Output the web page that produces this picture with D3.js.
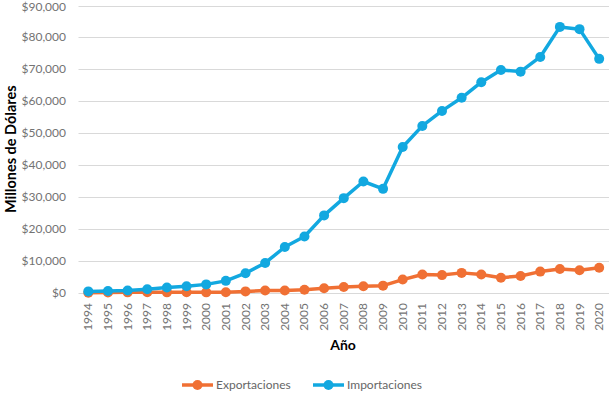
<!DOCTYPE html>
<html>
<head>
<meta charset="utf-8">
<script src="https://cdn.jsdelivr.net/npm/d3@7"></script>
<style>
body { margin: 0; background: #fff; }
text { font-family: Lato, "Open Sans", sans-serif; }
</style>
</head>
<body>
<div id="chart"></div>
<script>
var years = [1994, 1995, 1996, 1997, 1998, 1999, 2000, 2001, 2002, 2003, 2004, 2005, 2006,
    2007, 2008, 2009, 2010, 2011, 2012, 2013, 2014, 2015, 2016, 2017, 2018, 2019, 2020];

var exportaciones = [100, 150, 200, 250, 200, 250, 200, 250, 500, 800, 800, 1000, 1500,
    1900, 2100, 2300, 4200, 5800, 5600, 6300, 5800, 4800, 5300, 6700, 7500, 7100, 7900];

var importaciones = [500, 600, 800, 1200, 1700, 2100, 2700, 3800, 6200, 9400, 14400, 17700, 24300,
    29700, 34900, 32600, 45700, 52300, 57000, 61100, 66000, 69800, 69300, 73900, 83300, 82600, 73300];

var yTicks = [0, 10000, 20000, 30000, 40000, 50000, 60000, 70000, 80000, 90000];

var seriesNames = ["Exportaciones", "Importaciones"];
var colors = ["#f07034", "#12a8e0"];

var width = 609;
var height = 393;
var margin = { top: 5.5, right: 0, bottom: 100, left: 78.5 };

var svg = d3.select("#chart").append("svg")
    .attr("width", width)
    .attr("height", height);

var x = d3.scaleBand()
    .domain(years)
    .range([margin.left, width - margin.right]);

var y = d3.scaleLinear()
    .domain([0, 90000])
    .range([height - margin.bottom, margin.top]);

// grid lines
svg.append("g")
    .selectAll("line")
    .data(yTicks)
    .enter().append("line")
    .attr("x1", margin.left)
    .attr("x2", width - margin.right)
    .attr("y1", d => Math.round(y(d)) + 0.5)
    .attr("y2", d => Math.round(y(d)) + 0.5)
    .attr("stroke", "#d9d9d9")
    .attr("stroke-width", 1.2);

// y labels (top one kept inside the window)
var fmt = d3.format(",");
svg.append("g")
    .selectAll("text")
    .data(yTicks)
    .enter().append("text")
    .attr("x", 66)
    .attr("y", d => Math.max(y(d) + 4, 11))
    .attr("text-anchor", "end")
    .attr("font-size", 12)
    .attr("fill", "#737373")
    .text(d => "$" + fmt(d));

// x labels
svg.append("g")
    .selectAll("text")
    .data(years)
    .enter().append("text")
    .attr("transform", d => `translate(${x(d) + x.bandwidth() / 2 + 4},${y(0) + 10}) rotate(-90)`)
    .attr("text-anchor", "end")
    .attr("font-size", 12)
    .attr("fill", "#737373")
    .text(d => d);

// axis titles
svg.append("text")
    .attr("x", 343)
    .attr("y", 350)
    .attr("text-anchor", "middle")
    .attr("font-size", 14)
    .attr("font-weight", "bold")
    .attr("fill", "#000")
    .text("Año");

svg.append("text")
    .attr("transform", `translate(16,${(y(0) + y(90000)) / 2}) rotate(-90)`)
    .attr("text-anchor", "middle")
    .attr("font-size", 14.5)
    .attr("font-weight", "bold")
    .attr("fill", "#000")
    .text("Millones de Dólares");

var line = d3.line()
    .x(function (d, i) { return x(years[i]) + x.bandwidth() / 2 })
    .y(function (d) { return y(d) });

var allSeries = [exportaciones, importaciones];
allSeries.forEach(function (s, k) {
    svg.append("path")
        .datum(s)
        .attr("fill", "none")
        .attr("stroke", colors[k])
        .attr("stroke-width", 3.5)
        .attr("stroke-linejoin", "round")
        .attr("d", line);
    svg.append("g")
        .selectAll("circle")
        .data(s)
        .enter().append("circle")
        .attr("cx", (d, i) => x(years[i]) + x.bandwidth() / 2)
        .attr("cy", d => y(d))
        .attr("r", 5)
        .attr("fill", colors[k]);
});

// legend
var legendX = [182, 313];
seriesNames.forEach(function (name, k) {
    var g = svg.append("g").attr("transform", `translate(${legendX[k]},385)`);
    g.append("line")
        .attr("x1", 0).attr("x2", 31)
        .attr("stroke", colors[k])
        .attr("stroke-width", 3.5);
    g.append("circle")
        .attr("cx", 15.5).attr("r", 5)
        .attr("fill", colors[k]);
    g.append("text")
        .attr("x", 34)
        .attr("y", 4)
        .attr("font-size", 12)
        .attr("fill", "#666")
        .text(name);
});
</script>
</body>
</html>
